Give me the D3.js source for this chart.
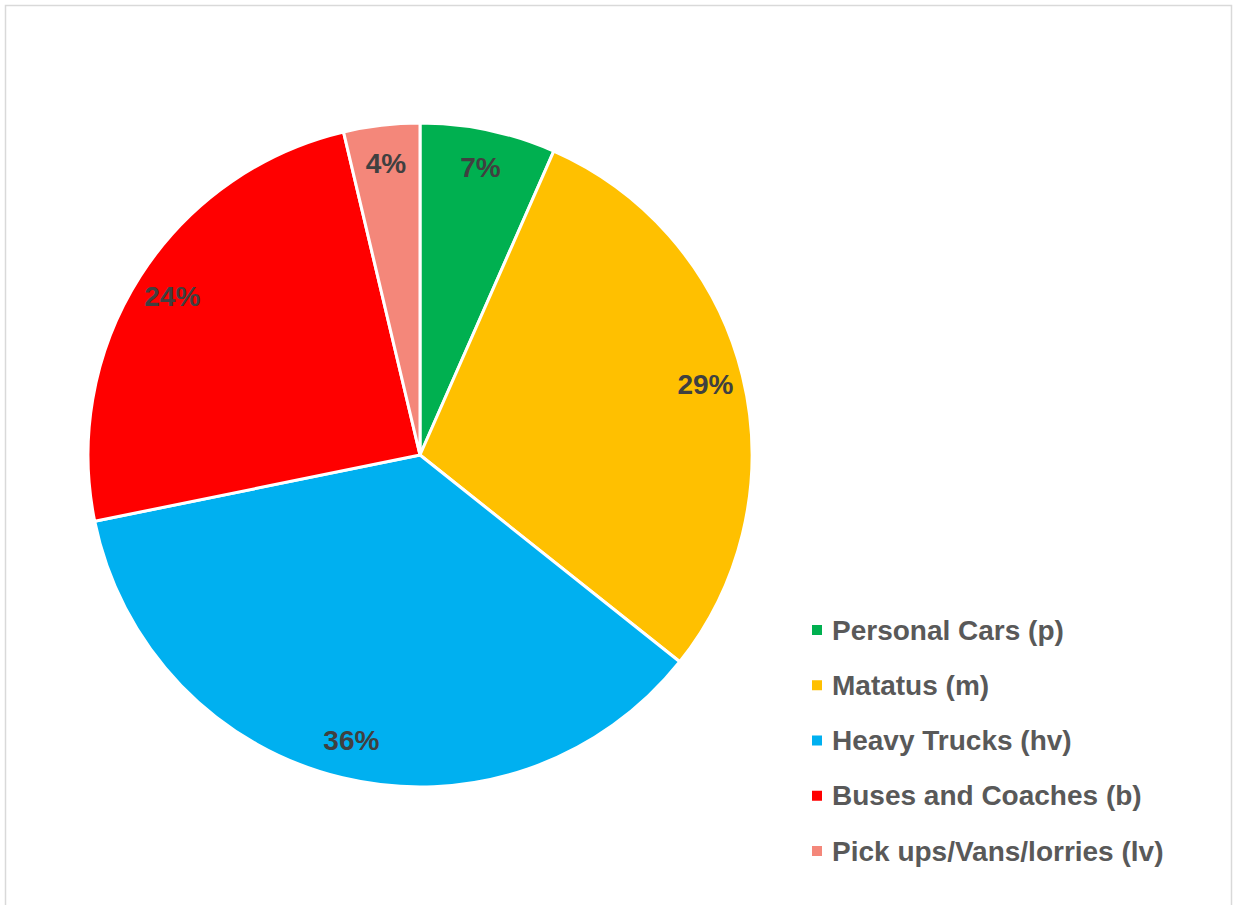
<!DOCTYPE html>
<html>
<head>
<meta charset="utf-8">
<script src="https://cdn.jsdelivr.net/npm/d3@7"></script>
<style>
  html, body { margin: 0; padding: 0; background: #fff; }
  svg { display: block; }
  text { font-family: "Liberation Sans", Arial, sans-serif; font-weight: bold; }
</style>
</head>
<body>
<svg id="chart" width="1233" height="905"></svg>
<script>
const categories = ["Personal Cars (p)", "Matatus (m)", "Heavy Trucks (hv)", "Buses and Coaches (b)", "Pick ups/Vans/lorries (lv)"];
const values = [6.6, 29.1, 36.1, 24.5, 3.7];
const colors = ["#00B050", "#FFC000", "#00B0F0", "#FF0000", "#F4877A"];

const svg = d3.select("#chart");
// chart area border
svg.append("rect")
  .attr("x", 5.5).attr("y", 5.5)
  .attr("width", 1226).attr("height", 920)
  .attr("fill", "#fff")
  .attr("stroke", "#d9d9d9").attr("stroke-width", 1.5);

const cx = 420, cy = 455, R = 332;
const total = d3.sum(values);
const data = categories.map((c, i) => ({ name: c, value: values[i], color: colors[i] }));

const pie = d3.pie().value(d => d.value).sort(null);
const arcs = pie(data);
const arc = d3.arc().innerRadius(0).outerRadius(R);
const labelArc = d3.arc().innerRadius(294).outerRadius(294);

const g = svg.append("g").attr("transform", `translate(${cx},${cy})`);
g.selectAll("path").data(arcs).join("path")
  .attr("d", arc)
  .attr("fill", d => d.data.color)
  .attr("stroke", "#fff")
  .attr("stroke-width", 3)
  .attr("stroke-linejoin", "round");

const fmt = d3.format(".0%");
g.selectAll("text.lbl").data(arcs).join("text")
  .attr("class", "lbl")
  .attr("transform", d => `translate(${labelArc.centroid(d)})`)
  .attr("text-anchor", "middle")
  .attr("dy", "0.34em")
  .attr("fill", "#404040")
  .attr("font-size", 28)
  .text(d => fmt(d.data.value / total));

// legend
const ly = d3.scalePoint().domain(categories).range([630, 851]);
const lg = svg.append("g");
const items = lg.selectAll("g").data(data).join("g")
  .attr("transform", d => `translate(812,${ly(d.name)})`);
items.append("rect")
  .attr("x", 0).attr("y", -5).attr("width", 10).attr("height", 10)
  .attr("fill", d => d.color);
items.append("text")
  .attr("x", 20).attr("dy", "0.34em")
  .attr("fill", "#595959")
  .attr("font-size", 28)
  .text(d => d.name);
</script>
</body>
</html>
